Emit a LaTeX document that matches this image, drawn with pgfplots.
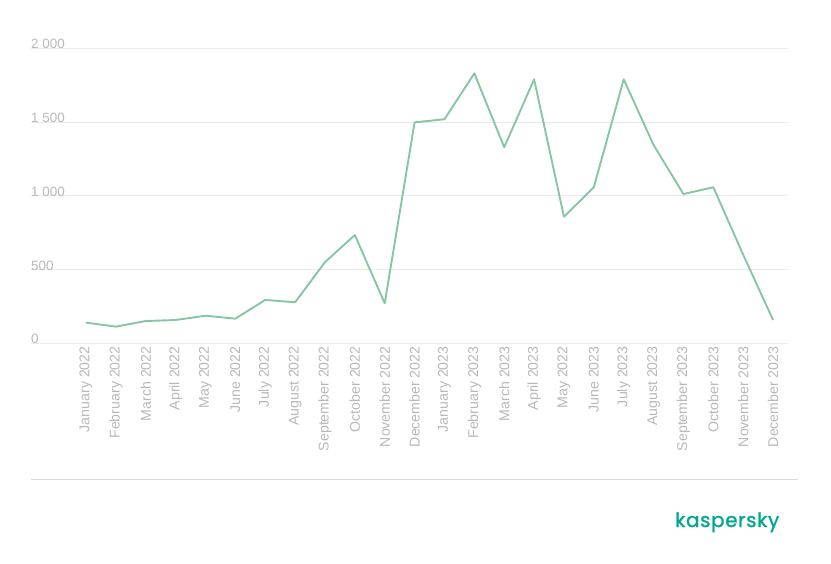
\documentclass[border=0pt]{standalone}
\usepackage{pgfplots}
\pgfplotsset{compat=1.18}
\usepackage{fontspec}
\setmainfont{Liberation Sans}
\newfontfamily\logofont[FakeBold=1.2,LetterSpace=3]{Poppins}
\definecolor{linegreen}{HTML}{86C6A3}
\definecolor{gridgray}{HTML}{EBEBEB}
\definecolor{labelgray}{HTML}{B8B8B8}
\definecolor{kgreen}{HTML}{00A88E}
\begin{document}
\begin{tikzpicture}[x=1bp,y=1bp]
\path (0,0) rectangle (831,-564);
\begin{axis}[
  at={(31bp,-343.3bp)}, anchor=south west,
  scale only axis, width=757bp, height=295bp,
  xmin=-1.841, xmax=23.5, ymin=0, ymax=2000,
  axis line style={draw=none},
  tick style={draw=none},
  ymajorgrids, major grid style={color=gridgray, line width=0.8bp},
  ytick={0,500,1000,1500,2000},
  yticklabels={0,500,1 000,1 500,2 000},
  yticklabel style={anchor=south west, inner sep=0pt, yshift=-1bp, font=\fontsize{13.5}{14}\selectfont, text=labelgray},
  xtick={0,...,23},
  xticklabels={January 2022,February 2022,March 2022,April 2022,May 2022,June 2022,July 2022,August 2022,September 2022,October 2022,November 2022,December 2022,January 2023,February 2023,March 2023,April 2023,May 2022,June 2023,July 2023,August 2023,September 2023,October 2023,November 2023,December 2023},
  xticklabel style={rotate=90, anchor=east, inner sep=0pt, xshift=-3bp, font=\fontsize{14.2}{15}\selectfont, text=labelgray},
  clip=false,
]
\addplot[color=linegreen, line width=1.9bp, line join=round] coordinates {
(0,140) (1,113) (2,151) (3,158) (4,187) (5,167) (6,294) (7,278)
(8,550) (9,734) (10,271) (11,1498) (12,1519) (13,1830) (14,1329) (15,1790)
(16,858) (17,1058) (18,1790) (19,1344) (20,1012) (21,1058) (22,600) (23,158)
};
\end{axis}
\draw[color=gridgray!85!gray, line width=0.8bp] (31,-479) -- (798,-479);
\node[anchor=base west, inner sep=0pt, text=kgreen, font=\logofont\fontsize{20}{22}\selectfont] at (675,-527) {kaspersky};
\end{tikzpicture}
\end{document}
